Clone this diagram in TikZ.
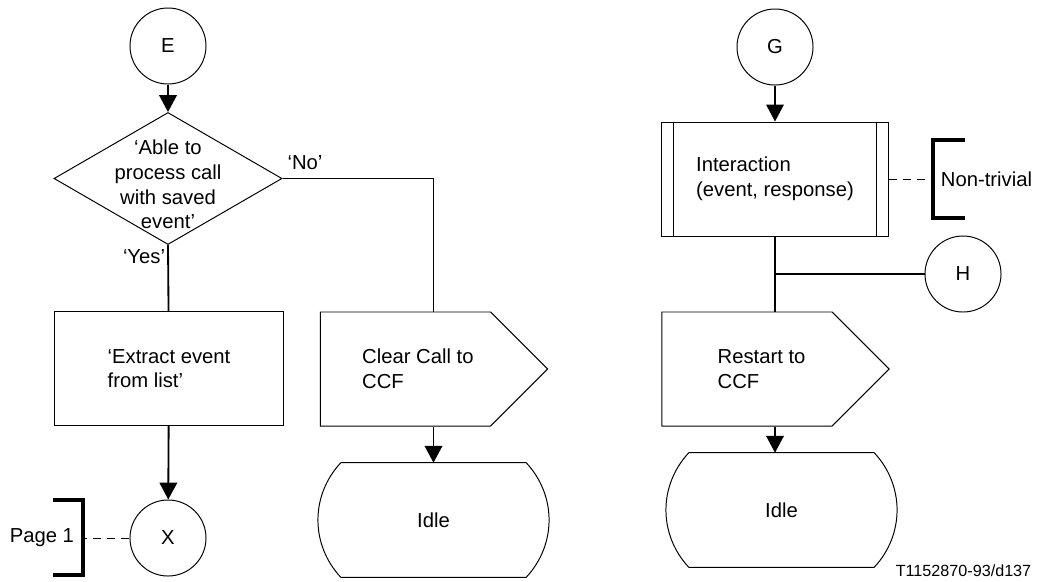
\documentclass[tikz,border=0pt]{standalone}
\usepackage{fontspec}
\setmainfont{Liberation Sans}
\usetikzlibrary{arrows.meta,positioning,calc,shapes.geometric,shapes.symbols}

\begin{document}
\begin{tikzpicture}[x=0.025cm, y=-0.025cm,
  >={Triangle[length=12pt,width=12.5pt]},
  font=\fontsize{14.4}{17.5}\selectfont,
  flow/.style={line width=1.3pt},
  conn/.style={draw, circle, line width=0.7pt, minimum size=1.9cm, inner sep=0pt},
  task/.style={draw, rectangle, line width=0.7pt, minimum width=5.7cm, minimum height=2.83cm, align=left},
  decision/.style={draw, diamond, line width=0.7pt, minimum width=5.7cm, minimum height=3.3cm, inner sep=0pt},
  sigbox/.style={draw, signal, signal to=east, line width=0.7pt, minimum width=5.68cm, minimum height=2.85cm},
  sigtext/.style={align=left, anchor=west, inner sep=0pt},
  statebox/.style={minimum width=4.62cm, minimum height=2.85cm, inner sep=0pt},
  bracket/.style={line width=2.2pt},
  dashlink/.style={line width=0.7pt, dash pattern=on 6pt off 4pt}]
  \useasboundingbox (0,0) rectangle (1039,581);

  % left branch
  \node[conn] (E) at (168,46) {E};
  \node[decision] (D) at (168,178.5) {};
  \node[align=center] (Dtext) at (168,184.5) {‘Able to\\process call\\with saved\\event’};
  \node[task] (extract) at (169,368.5) {‘Extract event\\from list’};
  \node[conn] (X) at (168,538) {X};
  \node[sigbox] (clear) at (405.5,369) {};
  \node[sigtext] (cleartxt) at ([xshift=1.05cm]clear.west) {Clear Call to\\CCF};
  \node[statebox] (idleA) at (433.5,520) {Idle};

  % right branch
  \node[conn] (G) at (775,47) {G};
  \node[task, minimum width=5.65cm, minimum height=2.85cm] (inter) at (775,179) {Interaction\\(event, response)};
  \node[conn] (H) at (963,274) {H};
  \node[sigbox] (restart) at (747,369) {};
  \node[sigtext] (restarttxt) at ([xshift=1.4cm]restart.west) {Restart to\\CCF};
  \node[statebox] (idleB) at (781.5,510) {Idle};

  % connectors
  \draw[flow,->] (E) -- (D);
  \draw[flow] (D.south) -- (extract);
  \node[anchor=east] (yes) at (170,257) {‘Yes’};
  \draw[flow,->] (extract) -- (X);
  \draw[flow] (D.east) -| (idleA |- clear.north);
  \node (no) at (305,163) {‘No’};
  \draw[flow,->] (idleA |- clear.south) -- (idleA.north);
  \draw[->, line width=0.9pt] (G) -- (inter);
  \draw[flow] (inter) -- (inter |- restart.north);
  \draw[flow] (inter.south |- H) -- (H);
  \draw[flow,->] (inter |- restart.south) -- (inter |- idleB.north);

  % state symbols
  \foreach \s in {idleA,idleB}
    \draw[line width=0.7pt] (\s.north west) -- (\s.north east) to[bend left=43] (\s.south east)
      -- (\s.south west) to[bend left=43] (\s.north west);

  % procedure bars
  \draw[line width=0.7pt] ([xshift=0.3cm]inter.north west) -- ([xshift=0.3cm]inter.south west);
  \draw[line width=0.7pt] ([xshift=-0.3cm]inter.north east) -- ([xshift=-0.3cm]inter.south east);

  % comments
  \coordinate (nt) at (933,179);
  \draw[dashlink] (inter.east) -- (nt);
  \draw[bracket] ($(nt)+(32,-39)$) -- ++(-32,0) -- ++(0,78) -- ++(32,0);
  \node[anchor=west] (ntlabel) at ($(nt)+(3,0)$) {Non-trivial};

  \coordinate (pg) at (83,538);
  \draw[dashlink] (X.west) -- (pg);
  \draw[bracket] ($(pg)+(-30,-38)$) -- ++(30,0) -- ++(0,75) -- ++(-30,0);
  \node[anchor=east] (pglabel) at ($(pg)+(-4,0)$) {Page 1};

  \node[font=\fontsize{11.5}{13}\selectfont] (ref) at (963.5,571) {T1152870-93/d137};
\end{tikzpicture}
\end{document}
